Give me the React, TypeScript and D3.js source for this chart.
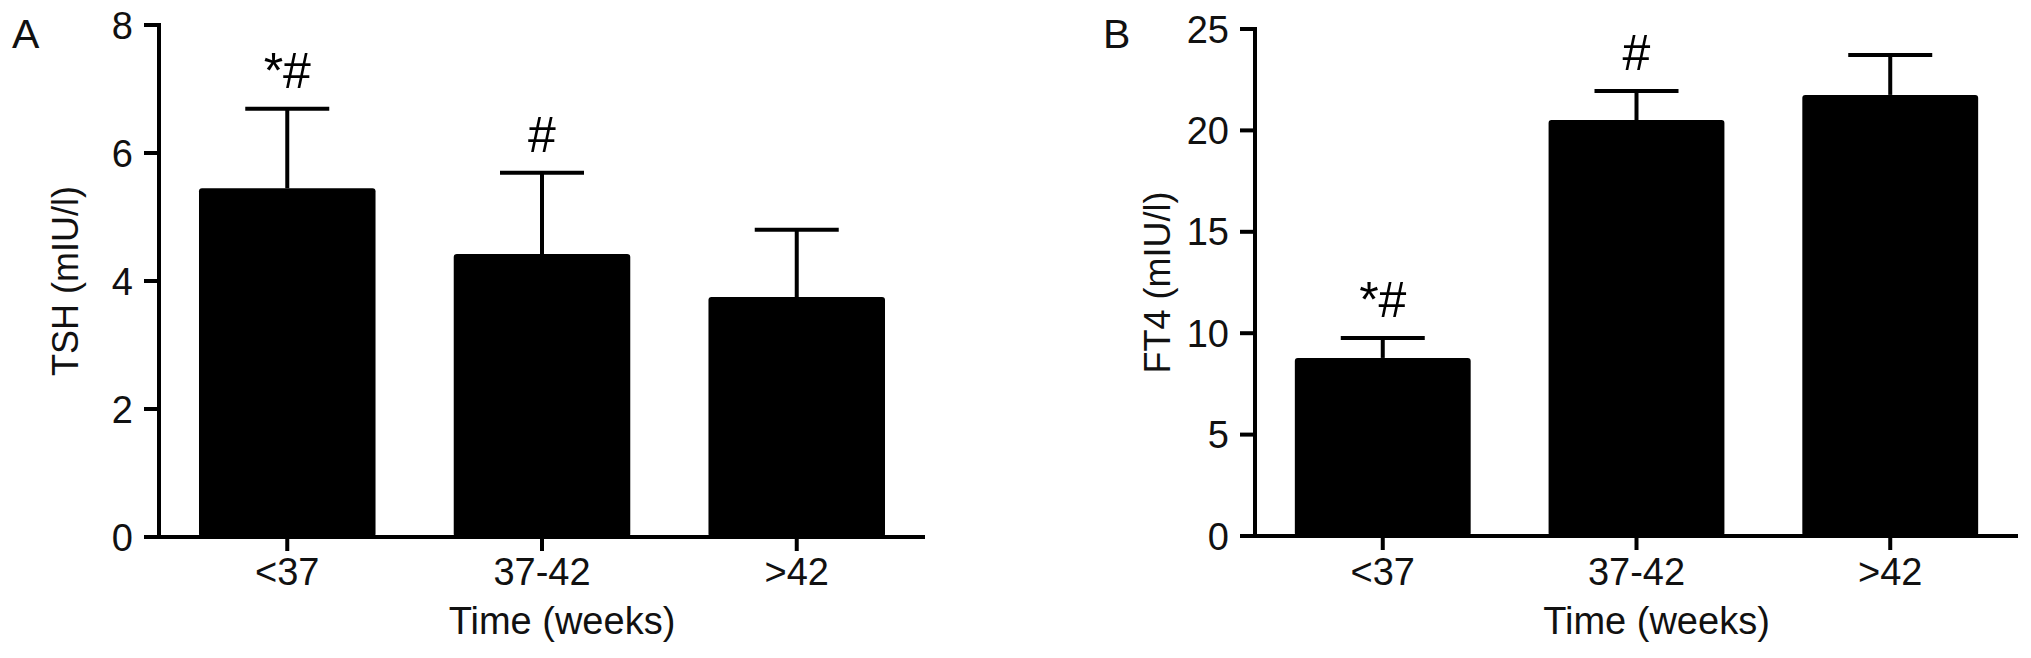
import React, { useEffect } from "react";
import * as d3 from "d3";

const categories = ["<37", "37-42", ">42"];
const tshMeans = [5.45, 4.42, 3.75];
const tshErrTop = [6.69, 5.69, 4.8];
const tshMarks = ["*#", "#", ""];
const tshTicks = [0, 2, 4, 6, 8];

const ft4Means = [8.78, 20.51, 21.75];
const ft4ErrTop = [9.76, 21.94, 23.72];
const ft4Marks = ["*#", "#", ""];
const ft4Ticks = [0, 5, 10, 15, 20, 25];

const FONT = "'Liberation Sans', Arial, Helvetica, sans-serif";

type PanelProps = {
  letter: string;
  letterX: number;
  yTitle: string;
  yTitleX: number;
  axisX: number;
  axisRight: number;
  y0: number;
  yTop: number;
  yMax: number;
  means: number[];
  errTop: number[];
  marks: string[];
  ticks: number[];
};

function Panel(p: PanelProps) {
  const x = d3
    .scaleBand<string>()
    .domain(categories)
    .range([p.axisX, p.axisRight])
    .paddingInner(0.307)
    .paddingOuter(0.157);
  const y = d3.scaleLinear().domain([0, p.yMax]).range([p.y0, p.yTop]);
  const sw = 4;
  const capHalf = 42;
  const midX = (p.axisX + p.axisRight) / 2 + 20;
  return (
    <g>
      <text x={p.letterX} y={48} fontSize={41} fontFamily={FONT} fill="#111">
        {p.letter}
      </text>
      {categories.map((c, i) => (
        <rect
          key={"b" + c}
          x={x(c)!}
          y={y(p.means[i])}
          width={x.bandwidth()}
          height={p.y0 - y(p.means[i])}
          rx={3}
          fill="#000"
        />
      ))}
      {categories.map((c, i) => {
        const cx = x(c)! + x.bandwidth() / 2;
        return (
          <g key={"e" + c} stroke="#000" strokeWidth={sw}>
            <line x1={cx} x2={cx} y1={y(p.means[i])} y2={y(p.errTop[i])} />
            <line
              x1={cx - capHalf}
              x2={cx + capHalf}
              y1={y(p.errTop[i])}
              y2={y(p.errTop[i])}
            />
          </g>
        );
      })}
      {categories.map((c, i) =>
        p.marks[i] ? (
          <text
            key={"m" + c}
            x={x(c)! + x.bandwidth() / 2}
            y={y(p.errTop[i]) - 21}
            textAnchor="middle"
            fontSize={50}
            fontFamily={FONT}
            fill="#000"
          >
            {p.marks[i]}
          </text>
        ) : null
      )}
      <line
        x1={p.axisX}
        x2={p.axisX}
        y1={p.yTop - sw / 2}
        y2={p.y0 + sw / 2}
        stroke="#000"
        strokeWidth={sw}
      />
      {p.ticks.map((t) => (
        <g key={"yt" + t}>
          <line
            x1={p.axisX - 15}
            x2={p.axisX}
            y1={y(t)}
            y2={y(t)}
            stroke="#000"
            strokeWidth={sw}
          />
          <text
            x={p.axisX - 26}
            y={y(t)}
            dy="0.36em"
            textAnchor="end"
            fontSize={38}
            fontFamily={FONT}
            fill="#111"
          >
            {t}
          </text>
        </g>
      ))}
      <line
        x1={p.axisX - 15}
        x2={p.axisRight}
        y1={p.y0}
        y2={p.y0}
        stroke="#000"
        strokeWidth={sw}
      />
      {categories.map((c) => {
        const cx = x(c)! + x.bandwidth() / 2;
        return (
          <g key={"xt" + c}>
            <line
              x1={cx}
              x2={cx}
              y1={p.y0}
              y2={p.y0 + 14}
              stroke="#000"
              strokeWidth={sw}
            />
            <text
              x={cx}
              y={585}
              textAnchor="middle"
              fontSize={38}
              fontFamily={FONT}
              fill="#111"
            >
              {c}
            </text>
          </g>
        );
      })}
      <text
        x={midX}
        y={634}
        textAnchor="middle"
        fontSize={38}
        fontFamily={FONT}
        fill="#111"
      >
        Time (weeks)
      </text>
      <text
        transform={`translate(${p.yTitleX},${(p.y0 + p.yTop) / 2}) rotate(-90)`}
        textAnchor="middle"
        dy="0.35em"
        fontSize={36}
        fontFamily={FONT}
        fill="#111"
      >
        {p.yTitle}
      </text>
    </g>
  );
}

export default function App() {
  useEffect(() => {
    document.body.style.margin = "0";
  }, []);
  return (
    <svg
      width={2031}
      height={658}
      viewBox="0 0 2031 658"
      style={{ display: "block", background: "#fff" }}
    >
      <rect x={0} y={0} width={2031} height={658} fill="#fff" />
      <Panel
        letter="A"
        letterX={12}
        yTitle="TSH (mIU/l)"
        yTitleX={65}
        axisX={159}
        axisRight={925}
        y0={537}
        yTop={25}
        yMax={8}
        means={tshMeans}
        errTop={tshErrTop}
        marks={tshMarks}
        ticks={tshTicks}
      />
      <Panel
        letter="B"
        letterX={1103}
        yTitle="FT4 (mIU/l)"
        yTitleX={1157}
        axisX={1255}
        axisRight={2018}
        y0={536}
        yTop={29}
        yMax={25}
        means={ft4Means}
        errTop={ft4ErrTop}
        marks={ft4Marks}
        ticks={ft4Ticks}
      />
    </svg>
  );
}
